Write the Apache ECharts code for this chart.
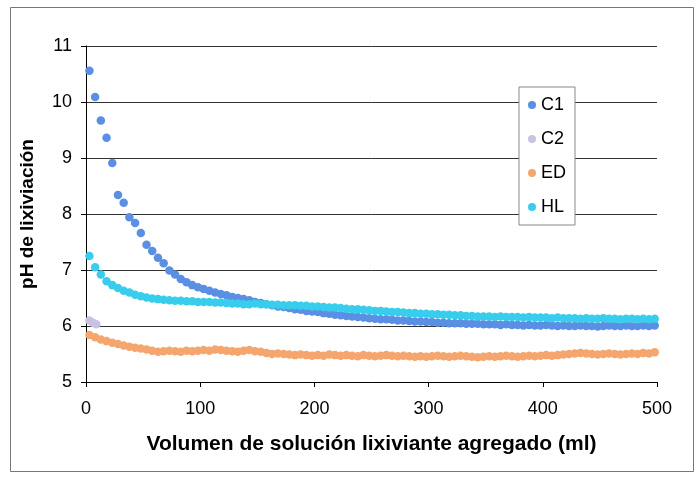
<!DOCTYPE html>
<html>
<head>
<meta charset="utf-8">
<style>
  html, body { margin: 0; padding: 0; background: #fff; }
  #chart { width: 699px; height: 478px; }
</style>
<script src="https://cdn.jsdelivr.net/npm/echarts@6/dist/echarts.min.js"></script>
</head>
<body>
<div id="chart"></div>
<script>
// Volume of leaching solution added (ml), shared sampling points for C1, ED and HL
const volumeMl = [
  3, 8, 13, 18, 23, 28, 33, 38, 43, 48,
  53, 58, 63, 68, 73, 78, 83, 88, 93, 98,
  103, 108, 113, 118, 123, 128, 133, 138, 143, 148,
  153, 158, 163, 168, 173, 178, 183, 188, 193, 198,
  203, 208, 213, 218, 223, 228, 233, 238, 243, 248,
  253, 258, 263, 268, 273, 278, 283, 288, 293, 298,
  303, 308, 313, 318, 323, 328, 333, 338, 343, 348,
  353, 358, 363, 368, 373, 378, 383, 388, 393, 398,
  403, 408, 413, 418, 423, 428, 433, 438, 443, 448,
  453, 458, 463, 468, 473, 478, 483, 488, 493, 498
];

const phC1 = [
  10.56, 10.09, 9.67, 9.36, 8.91, 8.34, 8.20, 7.94, 7.84, 7.66,
  7.45, 7.34, 7.22, 7.12, 6.99, 6.92, 6.84, 6.78, 6.73, 6.69,
  6.66, 6.63, 6.60, 6.57, 6.55, 6.52, 6.50, 6.48, 6.46, 6.43,
  6.41, 6.39, 6.37, 6.35, 6.34, 6.32, 6.30, 6.29, 6.27, 6.26,
  6.25, 6.23, 6.22, 6.20, 6.19, 6.18, 6.17, 6.16, 6.15, 6.14,
  6.13, 6.12, 6.12, 6.11, 6.10, 6.10, 6.09, 6.08, 6.08, 6.07,
  6.07, 6.06, 6.06, 6.05, 6.05, 6.05, 6.04, 6.04, 6.04, 6.03,
  6.03, 6.03, 6.02, 6.03, 6.02, 6.02, 6.01, 6.02, 6.01, 6.01,
  6.02, 6.01, 6.00, 6.01, 6.00, 6.00, 6.01, 6.00, 6.00, 5.99,
  6.00, 6.01, 6.00, 6.00, 6.01, 6.00, 6.00, 6.01, 6.00, 6.01
];

const phED = [
  5.84, 5.80, 5.76, 5.73, 5.70, 5.68, 5.65, 5.63, 5.61, 5.60,
  5.58, 5.56, 5.54, 5.55, 5.56, 5.55, 5.54, 5.56, 5.55, 5.56,
  5.57, 5.56, 5.58, 5.57, 5.56, 5.55, 5.54, 5.56, 5.57, 5.55,
  5.54, 5.52, 5.50, 5.51, 5.50, 5.49, 5.48, 5.49, 5.48, 5.47,
  5.48, 5.47, 5.49, 5.48, 5.47, 5.48, 5.47, 5.46, 5.48, 5.47,
  5.46, 5.47, 5.48, 5.47, 5.46, 5.47, 5.46, 5.45, 5.46, 5.45,
  5.46, 5.47, 5.46, 5.45, 5.46, 5.47, 5.46, 5.45, 5.44, 5.45,
  5.46, 5.45, 5.46, 5.47, 5.46, 5.45, 5.46, 5.47, 5.46, 5.47,
  5.48, 5.47, 5.48, 5.49, 5.50, 5.51, 5.52, 5.51, 5.50, 5.49,
  5.50, 5.51, 5.50, 5.49, 5.50, 5.51, 5.50, 5.52, 5.51, 5.53
];

const phHL = [
  7.25, 7.05, 6.92, 6.80, 6.73, 6.68, 6.63, 6.60, 6.56, 6.53,
  6.51, 6.49, 6.48, 6.47, 6.46, 6.45, 6.45, 6.44, 6.44, 6.43,
  6.43, 6.43, 6.42, 6.42, 6.41, 6.40, 6.40, 6.39, 6.39, 6.40,
  6.39, 6.39, 6.38, 6.38, 6.37, 6.37, 6.37, 6.36, 6.36, 6.35,
  6.35, 6.34, 6.33, 6.33, 6.32, 6.31, 6.30, 6.30, 6.29, 6.28,
  6.27, 6.27, 6.26, 6.25, 6.25, 6.24, 6.23, 6.23, 6.22, 6.22,
  6.21, 6.21, 6.20, 6.20, 6.19, 6.19, 6.18, 6.18, 6.17, 6.17,
  6.17, 6.16, 6.17, 6.16, 6.16, 6.16, 6.15, 6.16, 6.15, 6.15,
  6.15, 6.14, 6.15, 6.14, 6.14, 6.14, 6.13, 6.14, 6.13, 6.13,
  6.14, 6.13, 6.13, 6.12, 6.13, 6.13, 6.12, 6.13, 6.12, 6.13
];

// C2 only shows a few readings at the very start
const volumeC2 = [3, 6, 9];
const phC2 = [6.10, 6.06, 6.03];

const seriesNames = ['C1', 'C2', 'ED', 'HL'];
const seriesColors = ['#5a8fe3', '#c9c3e3', '#f4a66e', '#38cdec'];

const pairs = (xs, ys) => xs.map((x, i) => [x, ys[i]]);
const seriesData = [
  pairs(volumeMl, phC1),
  pairs(volumeC2, phC2),
  pairs(volumeMl, phED),
  pairs(volumeMl, phHL)
];

const FONT = '"Liberation Sans", Arial, sans-serif';
const chart = echarts.init(document.getElementById('chart'), null, { renderer: 'canvas' });

chart.setOption({
  animation: false,
  backgroundColor: '#ffffff',
  textStyle: { fontFamily: FONT },
  graphic: [{
    type: 'rect',
    silent: true,
    z: -10,
    shape: { x: 10.5, y: 7.5, width: 683, height: 464 },
    style: { fill: 'none', stroke: '#777', lineWidth: 1 }
  }],
  grid: { left: 86, right: 42, top: 46, bottom: 96 },
  legend: {
    orient: 'vertical',
    left: 519,
    top: 87,
    padding: [9, 9, 9, 9],
    itemGap: 16,
    itemWidth: 8,
    itemHeight: 8,
    icon: 'circle',
    backgroundColor: '#ffffff',
    borderColor: '#888',
    borderWidth: 1,
    textStyle: { fontFamily: FONT, fontSize: 18, color: '#000' },
    data: seriesNames
  },
  xAxis: {
    type: 'value',
    min: 0,
    max: 500,
    interval: 100,
    name: 'Volumen de solución lixiviante agregado (ml)',
    nameLocation: 'middle',
    nameGap: 52,
    nameTextStyle: { fontFamily: FONT, fontSize: 21, fontWeight: 'bold', color: '#000' },
    axisLine: { lineStyle: { color: '#000', width: 1 } },
    axisTick: { show: true, length: 5, lineStyle: { color: '#000' } },
    axisLabel: { fontFamily: FONT, fontSize: 18, color: '#000', margin: 18 },
    splitLine: { show: false }
  },
  yAxis: {
    type: 'value',
    min: 5,
    max: 11,
    interval: 1,
    name: 'pH de lixiviación',
    nameLocation: 'middle',
    nameGap: 49,
    nameRotate: 90,
    nameTextStyle: { fontFamily: FONT, fontSize: 19, fontWeight: 'bold', color: '#000' },
    axisLine: { show: true, lineStyle: { color: '#000', width: 1 } },
    axisTick: { show: true, length: 5, lineStyle: { color: '#000' } },
    axisLabel: { fontFamily: FONT, fontSize: 18, color: '#000', margin: 14 },
    splitLine: { show: true, lineStyle: { color: '#333', width: 1 } }
  },
  series: seriesNames.map((name, i) => ({
    name: name,
    type: 'scatter',
    symbol: 'circle',
    symbolSize: 8.5,
    itemStyle: { color: seriesColors[i], opacity: 1 },
    data: seriesData[i]
  }))
});
</script>
</body>
</html>
